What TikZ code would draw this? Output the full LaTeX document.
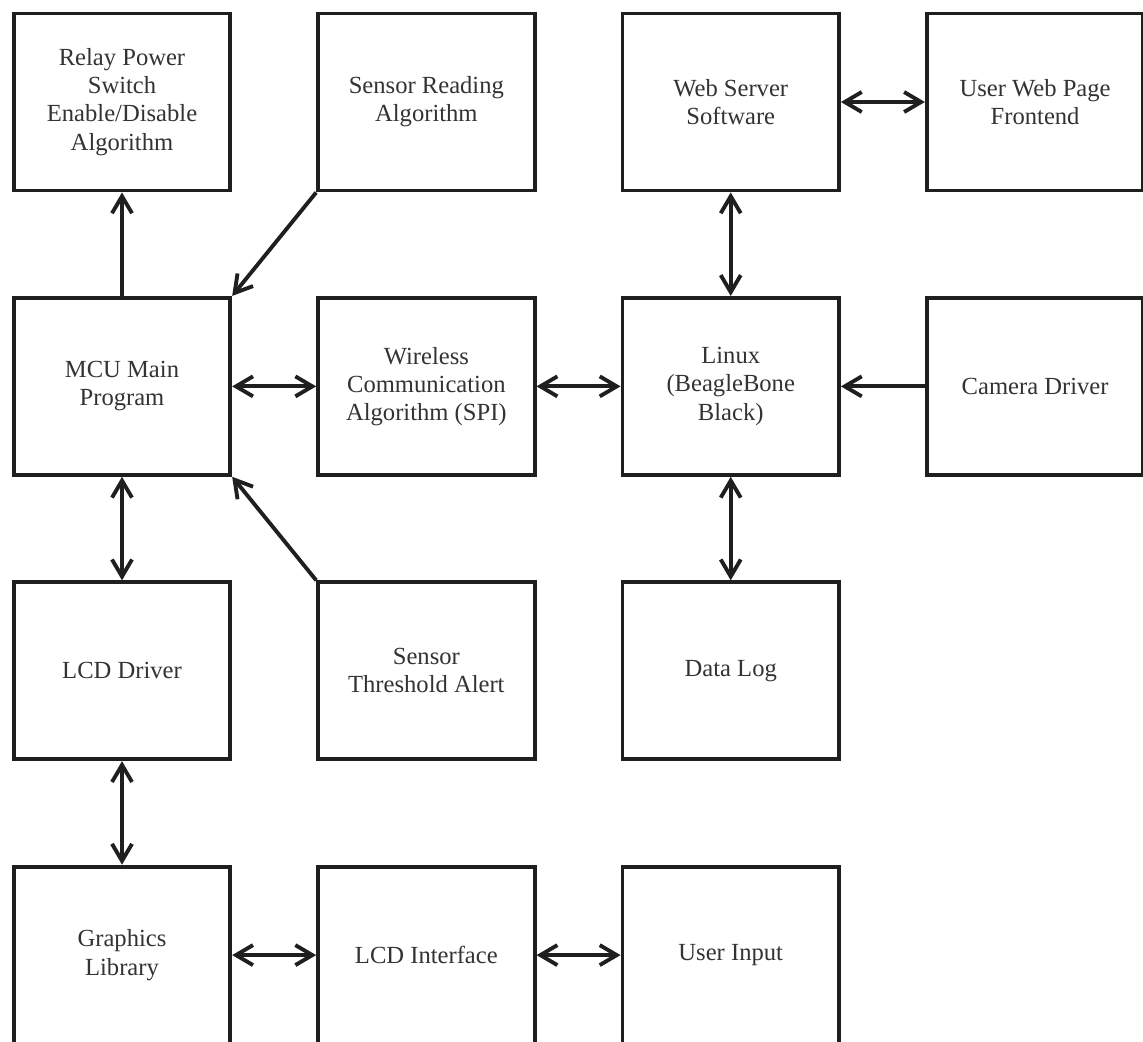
\documentclass[tikz,border=0pt]{standalone}
\usepackage{fontspec}
\setmainfont{Liberation Serif}
\usepackage{tikz}
\usetikzlibrary{arrows.meta,positioning}

\begin{document}
\begin{tikzpicture}[
    font=\fontsize{14}{16}\selectfont,
    >={Straight Barb[length=3.4mm,width=4mm]},
    node distance=2.07cm and 1.68cm,
    blockbox/.style={draw=black!88,line width=2.2pt,minimum width=4.33cm,
                     minimum height=3.54cm,align=center,text=black!80},
    link/.style={draw=black!88,line width=2.2pt}]
  \clip (0,0) rectangle (22.86,-20.84);
  \fill[white] (0,0) rectangle (22.86,-20.84);

  % top row
  \node[blockbox] (relay) at (2.44,-2.04)
       {Relay Power\\Switch\\Enable/Disable\\Algorithm};
  \node[blockbox,right=of relay] (sread) {Sensor Reading\\Algorithm};
  \node[blockbox,right=of sread] (websrv) {Web Server\\Software};
  \node[blockbox,right=of websrv] (webui) {User Web Page\\Frontend};

  % second row
  \node[blockbox,below=of relay] (mcu) {MCU Main\\Program};
  \node[blockbox,right=of mcu] (wless) {Wireless\\Communication\\Algorithm (SPI)};
  \node[blockbox,right=of wless] (linux) {Linux\\(BeagleBone\\Black)};
  \node[blockbox,right=of linux] (cam) {Camera Driver};

  % third row
  \node[blockbox,below=of mcu] (lcddrv) {LCD Driver};
  \node[blockbox,right=of lcddrv] (salert) {Sensor\\Threshold Alert};
  \node[blockbox,right=of salert] (dlog) {Data Log};

  % bottom row
  \node[blockbox,below=of lcddrv] (gfx) {Graphics\\Library};
  \node[blockbox,right=of gfx] (lcdif) {LCD Interface};
  \node[blockbox,right=of lcdif] (uin) {User Input};

  % connections
  \draw[link,->] (mcu) -- (relay);
  \draw[link,->] (sread.south west) -- (mcu.north east);
  \draw[link,->] (salert.north west) -- (mcu.south east);
  \draw[link,<->] (mcu) -- (wless);
  \draw[link,<->] (wless) -- (linux);
  \draw[link,->] (cam) -- (linux);
  \draw[link,<->] (websrv) -- (linux);
  \draw[link,<->] (websrv) -- (webui);
  \draw[link,<->] (linux) -- (dlog);
  \draw[link,<->] (mcu) -- (lcddrv);
  \draw[link,<->] (lcddrv) -- (gfx);
  \draw[link,<->] (gfx) -- (lcdif);
  \draw[link,<->] (lcdif) -- (uin);
\end{tikzpicture}
\end{document}
